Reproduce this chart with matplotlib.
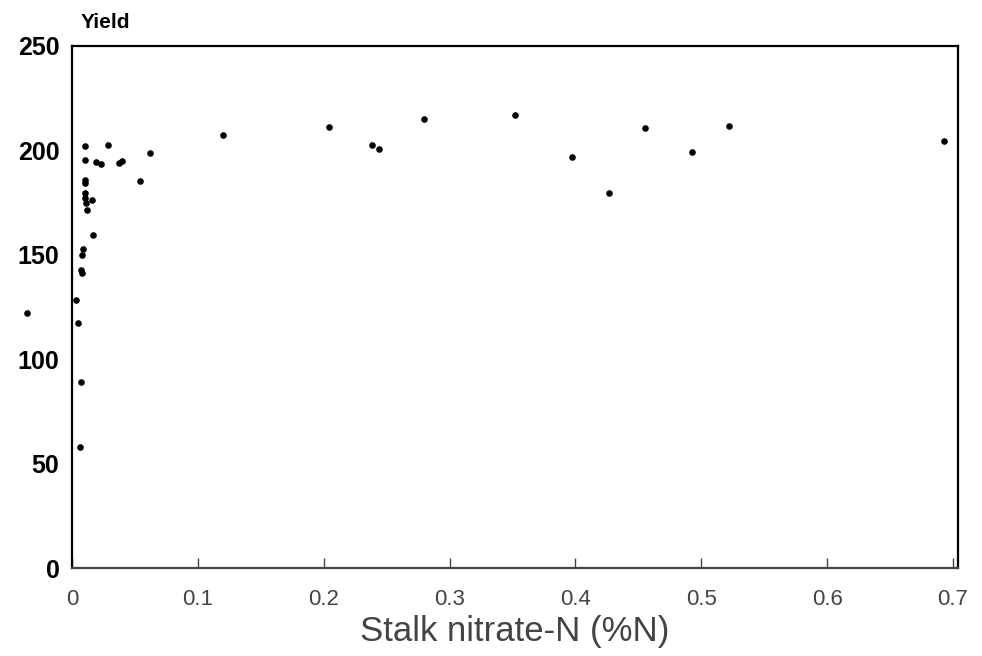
import numpy as np
import matplotlib.pyplot as plt

# stalk nitrate-N (%N) vs yield
nitrate = [0.120, 0.204, 0.238, 0.244, 0.280, 0.352, 0.397, 0.427, 0.455,
           0.493, 0.522, 0.693,
           0.010, 0.029, 0.062, 0.010, 0.019, 0.023, 0.037, 0.040, 0.054,
           0.010, 0.010, 0.010, 0.010, 0.011, 0.012, 0.016, 0.017,
           0.009, 0.008, 0.007, 0.008, 0.003, -0.036, 0.005, 0.0075, 0.0065]
yld = [207.4, 211.4, 202.6, 200.7, 215.0, 217.0, 197.0, 179.7, 210.6,
       199.4, 211.8, 204.5,
       202.0, 202.6, 198.6, 195.4, 194.3, 193.3, 193.8, 194.9, 185.5,
       185.8, 184.4, 179.5, 177.0, 174.7, 171.5, 176.2, 159.5,
       153.0, 150.0, 142.7, 141.1, 128.4, 122.3, 117.5, 89.2, 57.8]

xticks = [0, 0.1, 0.2, 0.3, 0.4, 0.5, 0.6, 0.7]
xticklabels = ['0', '0.1', '0.2', '0.3', '0.4', '0.5', '0.6', '0.7']
yticks = [0, 50, 100, 150, 200, 250]

plt.rcParams['font.family'] = ['Liberation Sans', 'DejaVu Sans']
fig = plt.figure(figsize=(9.82, 6.56), dpi=100)
ax = fig.add_axes([0.0733, 0.134, 0.9023, 0.796])

ax.scatter(nitrate, yld, s=14, color='black', clip_on=False, zorder=3)

ax.set_xlim(0, 0.704)
ax.set_ylim(0, 250)
for s in ax.spines.values():
    s.set_linewidth(1.6)
ax.spines['bottom'].set_color('#444444')

ax.set_xticks(xticks)
ax.set_xticklabels(xticklabels, fontsize=16, color='#333333')
ax.tick_params(axis='x', direction='in', length=7, width=1, pad=15, colors='#444444')
ax.set_yticks(yticks)
ax.set_yticklabels([str(v) for v in yticks], fontsize=18, fontweight='bold')
ax.tick_params(axis='y', length=0, pad=9)

ax.set_xlabel('Stalk nitrate-N (%N)', fontsize=25, color='#444444', labelpad=4)
fig.text(0.082, 0.965, 'Yield', fontsize=15, fontweight='bold', va='center')

fig.savefig('out.png', dpi=100)
